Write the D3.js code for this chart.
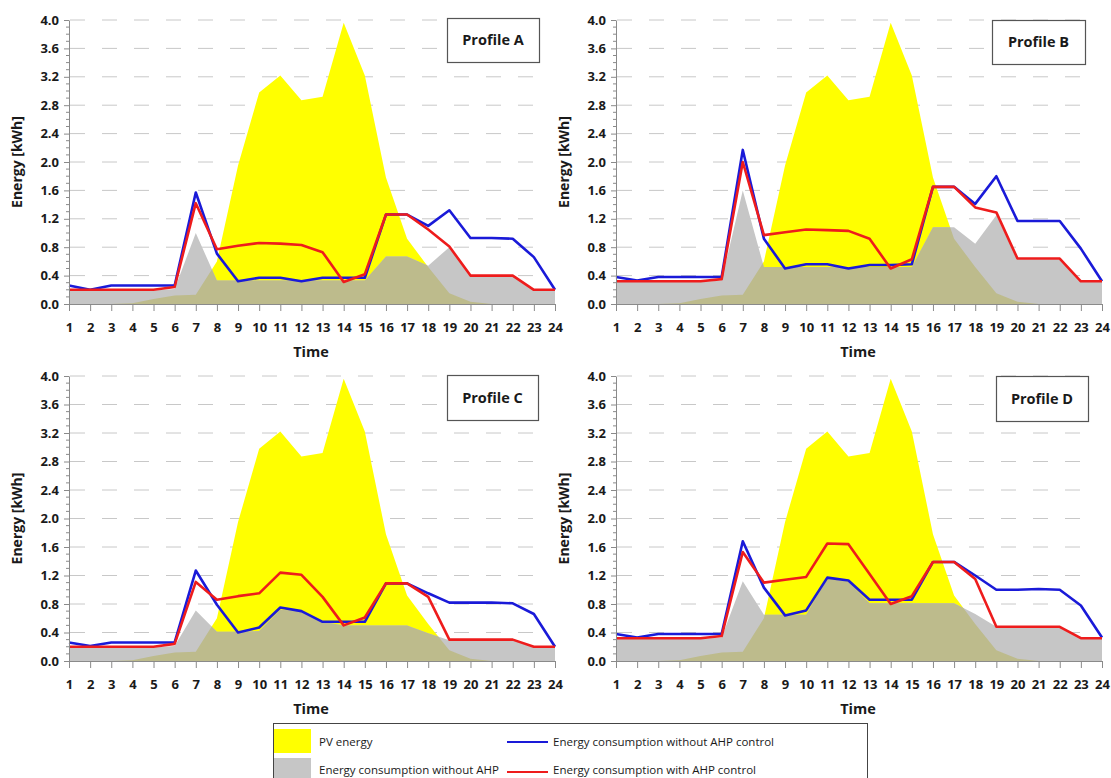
<!DOCTYPE html>
<html>
<head>
<meta charset="utf-8">
<script src="https://cdn.jsdelivr.net/npm/d3@7"></script>
<style>
  html, body { margin: 0; padding: 0; background: #fff; }
  svg { display: block; font-family: "Open Sans", "Noto Sans", sans-serif; }
</style>
</head>
<body>
<svg id="chart" width="1111" height="778"></svg>
<script>
// Hourly time steps
const hours = [1, 2, 3, 4, 5, 6, 7, 8, 9, 10, 11, 12, 13, 14, 15, 16, 17, 18, 19, 20, 21, 22, 23, 24];
const yTicks = [0.0, 0.4, 0.8, 1.2, 1.6, 2.0, 2.4, 2.8, 3.2, 3.6, 4.0];

// PV generation, shared by all profiles [kWh]
const pvEnergy = [0, 0, 0, 0.01, 0.07, 0.12, 0.13, 0.6, 1.95, 2.98, 3.22, 2.87, 2.92, 3.96, 3.22, 1.78, 0.92, 0.52, 0.15, 0.03, 0, 0, 0, 0];

// Profile A
const baseA    = [0.19, 0.19, 0.19, 0.19, 0.19, 0.21, 1.0, 0.33, 0.33, 0.33, 0.33, 0.33, 0.33, 0.33, 0.33, 0.67, 0.67, 0.54, 0.8, 0.39, 0.39, 0.39, 0.2, 0.2];
const noCtrlA  = [0.26, 0.2, 0.26, 0.26, 0.26, 0.26, 1.57, 0.71, 0.32, 0.37, 0.37, 0.32, 0.37, 0.37, 0.37, 1.26, 1.26, 1.1, 1.32, 0.93, 0.93, 0.92, 0.66, 0.2];
const ctrlA    = [0.2, 0.2, 0.2, 0.2, 0.2, 0.24, 1.42, 0.77, 0.82, 0.86, 0.85, 0.83, 0.73, 0.31, 0.42, 1.26, 1.26, 1.05, 0.81, 0.4, 0.4, 0.4, 0.2, 0.2];

// Profile B
const baseB    = [0.31, 0.31, 0.31, 0.31, 0.31, 0.33, 1.6, 0.52, 0.52, 0.52, 0.52, 0.52, 0.52, 0.52, 0.52, 1.08, 1.08, 0.85, 1.25, 0.63, 0.63, 0.63, 0.32, 0.32];
const noCtrlB  = [0.38, 0.33, 0.38, 0.38, 0.38, 0.38, 2.17, 0.92, 0.5, 0.56, 0.56, 0.5, 0.55, 0.55, 0.56, 1.65, 1.65, 1.41, 1.8, 1.17, 1.17, 1.17, 0.78, 0.32];
const ctrlB    = [0.32, 0.32, 0.32, 0.32, 0.32, 0.35, 2.0, 0.97, 1.01, 1.05, 1.04, 1.03, 0.92, 0.5, 0.63, 1.65, 1.65, 1.36, 1.29, 0.64, 0.64, 0.64, 0.32, 0.32];

// Profile C
const baseC    = [0.19, 0.19, 0.19, 0.19, 0.19, 0.21, 0.71, 0.41, 0.41, 0.42, 0.72, 0.7, 0.55, 0.5, 0.5, 0.5, 0.5, 0.39, 0.29, 0.29, 0.29, 0.29, 0.2, 0.2];
const noCtrlC  = [0.26, 0.21, 0.26, 0.26, 0.26, 0.26, 1.27, 0.79, 0.4, 0.47, 0.75, 0.7, 0.55, 0.55, 0.55, 1.09, 1.09, 0.95, 0.82, 0.82, 0.82, 0.81, 0.66, 0.2];
const ctrlC    = [0.2, 0.2, 0.2, 0.2, 0.2, 0.24, 1.11, 0.86, 0.91, 0.95, 1.24, 1.21, 0.9, 0.5, 0.61, 1.09, 1.09, 0.9, 0.3, 0.3, 0.3, 0.3, 0.2, 0.2];

// Profile D
const baseD    = [0.31, 0.31, 0.31, 0.31, 0.31, 0.33, 1.12, 0.65, 0.65, 0.65, 1.16, 1.11, 0.81, 0.81, 0.81, 0.81, 0.81, 0.66, 0.48, 0.47, 0.47, 0.47, 0.32, 0.32];
const noCtrlD  = [0.38, 0.33, 0.38, 0.38, 0.38, 0.38, 1.68, 1.03, 0.64, 0.71, 1.17, 1.13, 0.86, 0.86, 0.86, 1.39, 1.39, 1.2, 1.0, 1.0, 1.01, 1.0, 0.78, 0.33];
const ctrlD    = [0.32, 0.32, 0.32, 0.32, 0.32, 0.35, 1.53, 1.1, 1.14, 1.18, 1.65, 1.64, 1.22, 0.8, 0.91, 1.39, 1.39, 1.15, 0.48, 0.48, 0.48, 0.48, 0.32, 0.32];

const profileNames = ["Profile A", "Profile B", "Profile C", "Profile D"];
const baseSeries   = [baseA, baseB, baseC, baseD];
const noCtrlSeries = [noCtrlA, noCtrlB, noCtrlC, noCtrlD];
const ctrlSeries   = [ctrlA, ctrlB, ctrlC, ctrlD];

const legendLabels = ["PV energy", "Energy consumption without AHP", "Energy consumption without AHP control", "Energy consumption with AHP control"];

// Colours
const C = {
  pv: "#ffff00",
  base: "#c6c6c6",
  overlap: "#bdbb8c",
  noCtrl: "#1a1ad8",
  ctrl: "#ee1c1c",
  grid: "#c8c8c8",
  axis: "#8a8a8a",
  text: "#1a1a1a"
};

// Panel frames: plot area left (hour 1), right (hour 24), top (4.0), bottom (0.0)
const frames = [
  { left: 69,  right: 555,  top: 20,  bottom: 304 },
  { left: 616, right: 1102, top: 20,  bottom: 304 },
  { left: 69,  right: 555,  top: 376, bottom: 661 },
  { left: 616, right: 1102, top: 376, bottom: 661 }
];
const labelBoxes = [
  { x: 447, y: 18,  w: 92, h: 44 },
  { x: 992, y: 20,  w: 93, h: 44 },
  { x: 447, y: 375, w: 91, h: 45 },
  { x: 996, y: 376, w: 92, h: 45 }
];

const svg = d3.select("#chart");
const defs = svg.append("defs");

frames.forEach((f, i) => {
  const x = d3.scaleLinear().domain([1, 24]).range([f.left, f.right]);
  const y = d3.scaleLinear().domain([0, 4]).range([f.bottom, f.top]);
  const g = svg.append("g");

  // Dashed horizontal grid
  g.append("g").selectAll("line").data(yTicks.filter(v => v > 0)).join("line")
    .attr("x1", f.left).attr("x2", f.right - 14)
    .attr("y1", d => y(d)).attr("y2", d => y(d))
    .attr("stroke", C.grid).attr("stroke-width", 1)
    .attr("stroke-dasharray", "15,17").attr("stroke-dashoffset", -1);

  const pts = hours.map((h, k) => k);
  const pvArea = d3.area().x(k => x(hours[k])).y0(y(0)).y1(k => y(pvEnergy[k]));
  const baseArea = d3.area().x(k => x(hours[k])).y0(y(0)).y1(k => y(baseSeries[i][k]));

  g.append("path").attr("d", pvArea(pts)).attr("fill", C.pv);
  g.append("path").attr("d", baseArea(pts)).attr("fill", C.base);

  // Region where PV and base consumption overlap
  const clipId = "baseClip" + i;
  defs.append("clipPath").attr("id", clipId).append("path").attr("d", baseArea(pts));
  g.append("path").attr("d", pvArea(pts)).attr("fill", C.overlap).attr("clip-path", `url(#${clipId})`);

  const lineOf = s => d3.line().x(k => x(hours[k])).y(k => y(s[k]))(pts);
  g.append("path").attr("d", lineOf(noCtrlSeries[i]))
    .attr("fill", "none").attr("stroke", C.noCtrl).attr("stroke-width", 2.6).attr("stroke-linejoin", "round");
  g.append("path").attr("d", lineOf(ctrlSeries[i]))
    .attr("fill", "none").attr("stroke", C.ctrl).attr("stroke-width", 2.6).attr("stroke-linejoin", "round");

  // Y axis with major and minor ticks
  const yAxis = g.append("g").attr("transform", `translate(${f.left},0)`)
    .call(d3.axisLeft(y).tickValues(yTicks).tickFormat(d3.format(".1f")).tickSize(5).tickSizeOuter(0).tickPadding(5));
  yAxis.select(".domain").attr("stroke", C.axis);
  yAxis.selectAll(".tick line").attr("stroke", C.axis);
  yAxis.selectAll(".tick text").attr("fill", C.text).attr("font-size", 13).attr("font-weight", 700)
    .attr("font-family", "'Open Sans', sans-serif");
  const minor = d3.range(0, 41).map(v => v / 10).filter(v => Math.round(v * 10) % 4 !== 0);
  yAxis.append("g").selectAll("line").data(minor).join("line")
    .attr("x1", -3).attr("x2", 0).attr("y1", d => y(d)).attr("y2", d => y(d))
    .attr("stroke", C.axis);

  // X axis
  const xAxis = g.append("g").attr("transform", `translate(0,${f.bottom})`)
    .call(d3.axisBottom(x).tickValues(hours).tickFormat(d3.format("d")).tickSize(7).tickSizeOuter(0).tickPadding(12));
  xAxis.select(".domain").attr("stroke", C.axis);
  xAxis.selectAll(".tick line").attr("stroke", C.axis);
  xAxis.selectAll(".tick text").attr("fill", C.text).attr("font-size", 13).attr("font-weight", 700)
    .attr("font-family", "'Open Sans', sans-serif");

  // Axis titles
  g.append("text").attr("x", (f.left + f.right) / 2 - 1).attr("y", f.bottom + 53)
    .attr("text-anchor", "middle").attr("font-size", 14.5).attr("font-weight", 700).attr("fill", C.text)
    .text("Time");
  g.append("text")
    .attr("transform", `translate(${f.left - 47},${(f.top + f.bottom) / 2}) rotate(-90)`)
    .attr("text-anchor", "middle").attr("font-size", 14).attr("font-weight", 700).attr("fill", C.text)
    .text("Energy [kWh]");

  // Profile tag
  const b = labelBoxes[i];
  g.append("rect").attr("x", b.x + 0.5).attr("y", b.y + 0.5).attr("width", b.w).attr("height", b.h)
    .attr("fill", "#fff").attr("stroke", "#555").attr("stroke-width", 1.2);
  g.append("text").attr("x", b.x + b.w / 2).attr("y", b.y + b.h / 2 + 5)
    .attr("text-anchor", "middle").attr("font-size", 14.5).attr("font-weight", 700).attr("fill", C.text)
    .text(profileNames[i]);
});

// Legend
const lg = svg.append("g");
lg.append("rect").attr("x", 273.5).attr("y", 723.5).attr("width", 594).attr("height", 60)
  .attr("fill", "#fff").attr("stroke", "#444").attr("stroke-width", 1);
lg.append("rect").attr("x", 274).attr("y", 729).attr("width", 37).attr("height", 24).attr("fill", C.pv);
lg.append("rect").attr("x", 274).attr("y", 758).attr("width", 37).attr("height", 20).attr("fill", C.base);
lg.append("line").attr("x1", 507).attr("x2", 548).attr("y1", 742).attr("y2", 742)
  .attr("stroke", C.noCtrl).attr("stroke-width", 2.2);
lg.append("line").attr("x1", 507).attr("x2", 548).attr("y1", 772).attr("y2", 772)
  .attr("stroke", C.ctrl).attr("stroke-width", 2.2);
const legendPos = [[319, 746], [319, 774], [553, 746], [553, 774]];
legendLabels.forEach((t, k) => {
  lg.append("text").attr("x", legendPos[k][0]).attr("y", legendPos[k][1])
    .attr("font-size", 11.5).attr("fill", C.text).text(t);
});
</script>
</body>
</html>
